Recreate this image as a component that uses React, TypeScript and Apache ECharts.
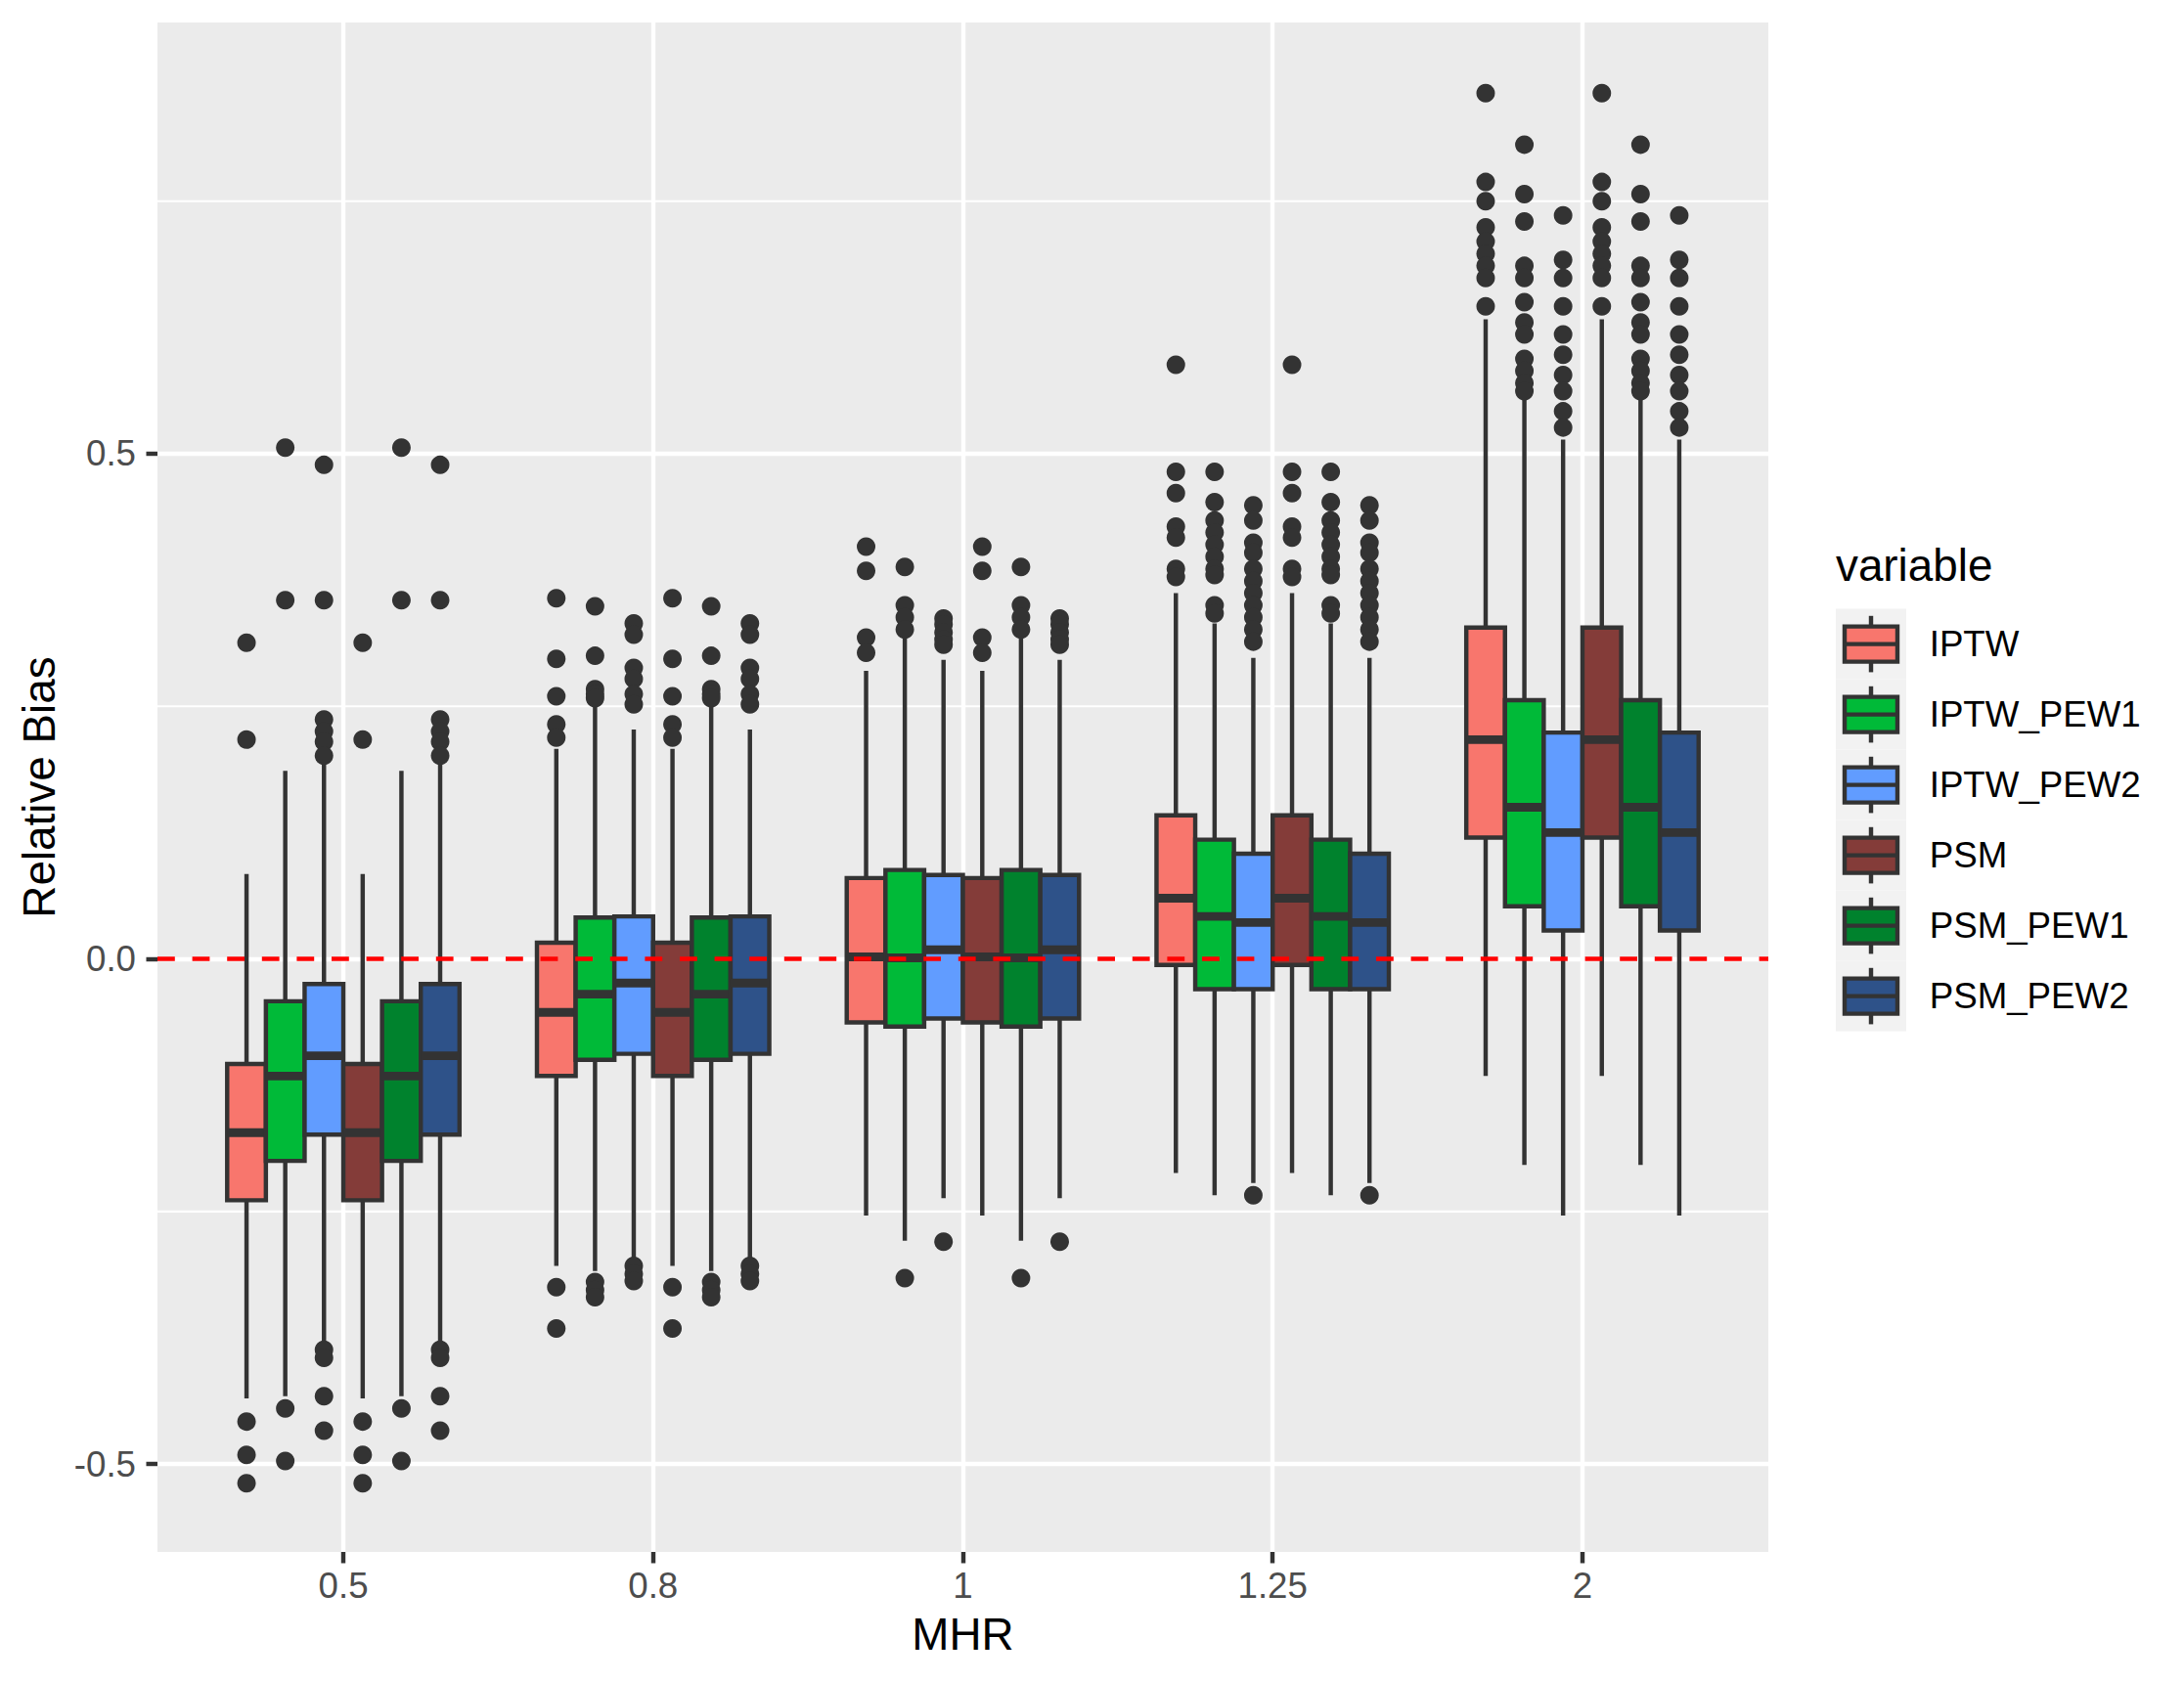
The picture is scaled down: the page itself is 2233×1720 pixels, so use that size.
import React, { useEffect, useRef } from "react";
import * as echarts from "echarts";

// ---- data ----
const mhrLabels = ["0.5", "0.8", "1", "1.25", "2"];
const variables = ["IPTW", "IPTW_PEW1", "IPTW_PEW2", "PSM", "PSM_PEW1", "PSM_PEW2"];
const fillColors = ["#F8766D", "#00BA38", "#619CFF", "#843C39", "#00822D", "#2E5289"];

// [lower whisker, Q1, median, Q3, upper whisker] per MHR group
const iptwStats = [
  [-0.435, -0.239, -0.172, -0.104, 0.084],
  [-0.304, -0.116, -0.053, 0.016, 0.208],
  [-0.254, -0.063, 0.002, 0.080, 0.285],
  [-0.212, -0.006, 0.060, 0.142, 0.362],
  [-0.116, 0.120, 0.217, 0.328, 0.633],
];
const iptwPew1Stats = [
  [-0.433, -0.200, -0.116, -0.042, 0.186],
  [-0.309, -0.100, -0.035, 0.041, 0.251],
  [-0.279, -0.067, 0.001, 0.088, 0.317],
  [-0.234, -0.030, 0.042, 0.118, 0.332],
  [-0.204, 0.052, 0.150, 0.256, 0.554],
];
const iptwPew2Stats = [
  [-0.380, -0.174, -0.096, -0.025, 0.194],
  [-0.297, -0.094, -0.024, 0.042, 0.227],
  [-0.237, -0.059, 0.009, 0.083, 0.296],
  [-0.222, -0.030, 0.036, 0.104, 0.298],
  [-0.254, 0.028, 0.125, 0.224, 0.514],
];
const psmStats = [
  [-0.435, -0.239, -0.172, -0.104, 0.084],
  [-0.304, -0.116, -0.053, 0.016, 0.208],
  [-0.254, -0.063, 0.002, 0.080, 0.285],
  [-0.212, -0.006, 0.060, 0.142, 0.362],
  [-0.116, 0.120, 0.217, 0.328, 0.633],
];
const psmPew1Stats = [
  [-0.433, -0.200, -0.116, -0.042, 0.186],
  [-0.309, -0.100, -0.035, 0.041, 0.251],
  [-0.279, -0.067, 0.001, 0.088, 0.317],
  [-0.234, -0.030, 0.042, 0.118, 0.332],
  [-0.204, 0.052, 0.150, 0.256, 0.554],
];
const psmPew2Stats = [
  [-0.380, -0.174, -0.096, -0.025, 0.194],
  [-0.297, -0.094, -0.024, 0.042, 0.227],
  [-0.237, -0.059, 0.009, 0.083, 0.296],
  [-0.222, -0.030, 0.036, 0.104, 0.298],
  [-0.254, 0.028, 0.125, 0.224, 0.514],
];

// outliers per MHR group
const iptwOutliers = [
  [0.313, 0.217, -0.458, -0.491, -0.519],
  [0.357, 0.297, 0.260, 0.232, 0.219, -0.325, -0.366],
  [0.408, 0.384, 0.318, 0.303],
  [0.588, 0.482, 0.461, 0.428, 0.417, 0.386, 0.378],
  [0.857, 0.769, 0.750, 0.724, 0.710, 0.698, 0.686, 0.674, 0.646],
];
const iptwPew1Outliers = [
  [0.506, 0.355, -0.445, -0.497],
  [0.349, 0.300, 0.267, 0.262, 0.258, -0.320, -0.328, -0.335],
  [0.388, 0.350, 0.338, 0.326, -0.316],
  [0.482, 0.452, 0.434, 0.422, 0.410, 0.398, 0.386, 0.380, 0.350, 0.342],
  [0.806, 0.757, 0.730, 0.686, 0.674, 0.650, 0.630, 0.618, 0.594, 0.582, 0.570, 0.562],
];
const iptwPew2Outliers = [
  [0.489, 0.355, 0.237, 0.225, 0.215, 0.201, -0.387, -0.395, -0.433, -0.467],
  [0.332, 0.321, 0.288, 0.277, 0.262, 0.252, -0.304, -0.312, -0.319],
  [0.337, 0.331, 0.323, 0.316, 0.311, -0.280],
  [0.449, 0.434, 0.412, 0.402, 0.386, 0.374, 0.362, 0.350, 0.338, 0.326, 0.314, -0.234],
  [0.736, 0.692, 0.674, 0.646, 0.618, 0.598, 0.578, 0.562, 0.542, 0.526],
];
const psmOutliers = [
  [0.313, 0.217, -0.458, -0.491, -0.519],
  [0.357, 0.297, 0.260, 0.232, 0.219, -0.325, -0.366],
  [0.408, 0.384, 0.318, 0.303],
  [0.588, 0.482, 0.461, 0.428, 0.417, 0.386, 0.378],
  [0.857, 0.769, 0.750, 0.724, 0.710, 0.698, 0.686, 0.674, 0.646],
];
const psmPew1Outliers = [
  [0.506, 0.355, -0.445, -0.497],
  [0.349, 0.300, 0.267, 0.262, 0.258, -0.320, -0.328, -0.335],
  [0.388, 0.350, 0.338, 0.326, -0.316],
  [0.482, 0.452, 0.434, 0.422, 0.410, 0.398, 0.386, 0.380, 0.350, 0.342],
  [0.806, 0.757, 0.730, 0.686, 0.674, 0.650, 0.630, 0.618, 0.594, 0.582, 0.570, 0.562],
];
const psmPew2Outliers = [
  [0.489, 0.355, 0.237, 0.225, 0.215, 0.201, -0.387, -0.395, -0.433, -0.467],
  [0.332, 0.321, 0.288, 0.277, 0.262, 0.252, -0.304, -0.312, -0.319],
  [0.337, 0.331, 0.323, 0.316, 0.311, -0.280],
  [0.449, 0.434, 0.412, 0.402, 0.386, 0.374, 0.362, 0.350, 0.338, 0.326, 0.314, -0.234],
  [0.736, 0.692, 0.674, 0.646, 0.618, 0.598, 0.578, 0.562, 0.542, 0.526],
];

const yTicks = [-0.5, 0, 0.5];
const yMinorGrid = [-0.25, 0.25, 0.75];
const refLineValue = 0;

const allStats = [iptwStats, iptwPew1Stats, iptwPew2Stats, psmStats, psmPew1Stats, psmPew2Stats];
const allOutliers = [iptwOutliers, iptwPew1Outliers, iptwPew2Outliers, psmOutliers, psmPew1Outliers, psmPew2Outliers];

// ---- layout / style ----
const FONT = "Liberation Sans, Arial, Helvetica, sans-serif";
const W = 2233;
const H = 1720;
const X_MIN = 0.4;
const X_MAX = mhrLabels.length + 0.6;
const Y_MIN = -0.5871;
const Y_MAX = 0.9269;
const DODGE = 0.75;
const BOX_W = DODGE / variables.length;
const LW = 4.44;
const INK = "#333333";

function dodgeOffset(s: number) {
  return -DODGE / 2 + BOX_W * (s + 0.5);
}

export default function App() {
  const ref = useRef<HTMLDivElement>(null);

  useEffect(() => {
    document.body.style.margin = "0";
    if (!ref.current) return;
    const chart = echarts.init(ref.current, undefined, { renderer: "svg" });

    const boxSeries = variables.map((name, s) => ({
      name,
      type: "custom",
      z: 2,
      encode: { x: 0, y: [1, 2, 3, 4, 5] },
      data: allStats[s].map((st, g) => [g + 1 + dodgeOffset(s), ...st]),
      renderItem: (params: any, api: any) => {
        const x = api.value(0);
        const pLow = api.coord([x, api.value(1)]);
        const pQ1 = api.coord([x, api.value(2)]);
        const pMed = api.coord([x, api.value(3)]);
        const pQ3 = api.coord([x, api.value(4)]);
        const pHigh = api.coord([x, api.value(5)]);
        const w = api.size([BOX_W, 0])[0];
        const cx = pMed[0];
        return {
          type: "group",
          children: [
            {
              type: "line",
              shape: { x1: cx, y1: pHigh[1], x2: cx, y2: pQ3[1] },
              style: { stroke: INK, lineWidth: LW },
            },
            {
              type: "line",
              shape: { x1: cx, y1: pQ1[1], x2: cx, y2: pLow[1] },
              style: { stroke: INK, lineWidth: LW },
            },
            {
              type: "rect",
              shape: { x: cx - w / 2, y: pQ3[1], width: w, height: pQ1[1] - pQ3[1] },
              style: { fill: fillColors[s], stroke: INK, lineWidth: LW },
            },
            {
              type: "line",
              shape: { x1: cx - w / 2, y1: pMed[1], x2: cx + w / 2, y2: pMed[1] },
              style: { stroke: INK, lineWidth: LW * 2 },
            },
          ],
        };
      },
    }));

    const outlierSeries = variables.map((name, s) => ({
      name: name + " outliers",
      type: "scatter",
      z: 3,
      symbol: "circle",
      symbolSize: 19,
      itemStyle: { color: INK, opacity: 1 },
      data: allOutliers[s].flatMap((vals, g) => vals.map((v) => [g + 1 + dodgeOffset(s), v])),
    }));

    const minorGridSeries = {
      name: "minor grid",
      type: "custom",
      z: 1,
      silent: true,
      encode: { x: [0, 2], y: 1 },
      data: yMinorGrid.map((v) => [X_MIN, v, X_MAX]),
      renderItem: (params: any, api: any) => {
        const a = api.coord([api.value(0), api.value(1)]);
        const b = api.coord([api.value(2), api.value(1)]);
        return {
          type: "line",
          shape: { x1: a[0], y1: a[1], x2: b[0], y2: b[1] },
          style: { stroke: "#FFFFFF", lineWidth: LW / 2 },
        };
      },
    };

    const refLineSeries = {
      name: "reference",
      type: "custom",
      z: 10,
      silent: true,
      encode: { x: [0, 2], y: 1 },
      data: [[X_MIN, refLineValue, X_MAX]],
      renderItem: (params: any, api: any) => {
        const a = api.coord([api.value(0), api.value(1)]);
        const b = api.coord([api.value(2), api.value(1)]);
        return {
          type: "line",
          shape: { x1: a[0], y1: a[1], x2: b[0], y2: b[1] },
          style: { stroke: "#FF0000", lineWidth: LW, lineDash: [17.8, 17.8] },
        };
      },
    };

    // legend built from the variables / colours arrays
    const legendLeft = 1877;
    const legendTop = 622.6;
    const key = 72;
    const legendChildren: any[] = [
      {
        type: "text",
        x: legendLeft,
        y: 578.5,
        style: { text: "variable", font: `45.8px ${FONT}`, fill: "#000000", verticalAlign: "middle", align: "left" },
      },
    ];
    variables.forEach((name, i) => {
      const top = legendTop + key * i;
      const cx = legendLeft + key / 2;
      legendChildren.push(
        { type: "rect", shape: { x: legendLeft, y: top, width: key, height: key }, style: { fill: "#F2F2F2" } },
        { type: "line", shape: { x1: cx, y1: top + key * 0.1, x2: cx, y2: top + key * 0.9 }, style: { stroke: INK, lineWidth: LW } },
        {
          type: "rect",
          shape: { x: legendLeft + key * 0.125, y: top + key * 0.25, width: key * 0.75, height: key * 0.5 },
          style: { fill: fillColors[i], stroke: INK, lineWidth: LW },
        },
        {
          type: "line",
          shape: { x1: legendLeft + key * 0.125, y1: top + key / 2, x2: legendLeft + key * 0.875, y2: top + key / 2 },
          style: { stroke: INK, lineWidth: LW },
        },
        {
          type: "text",
          x: 1972.7,
          y: top + key / 2,
          style: { text: name, font: `36.7px ${FONT}`, fill: "#000000", verticalAlign: "middle", align: "left" },
        }
      );
    });

    const option: any = {
      animation: false,
      backgroundColor: "#FFFFFF",
      textStyle: { fontFamily: FONT },
      grid: {
        left: 161,
        right: W - 1808,
        top: 23,
        bottom: H - 1587,
        show: true,
        backgroundColor: "#EBEBEB",
        borderWidth: 0,
      },
      xAxis: {
        type: "value",
        min: X_MIN,
        max: X_MAX,
        position: "bottom",
        name: "MHR",
        nameLocation: "middle",
        nameGap: 84,
        nameTextStyle: { fontSize: 45.8, color: "#000000", fontFamily: FONT, verticalAlign: "middle" },
        axisLine: { show: false, onZero: false },
        axisTick: {
          show: true,
          length: 11.5,
          lineStyle: { color: INK, width: LW },
          customValues: mhrLabels.map((_, i) => i + 1),
        },
        axisLabel: {
          customValues: mhrLabels.map((_, i) => i + 1),
          formatter: (v: number) => mhrLabels[Math.round(v) - 1] ?? "",
          fontSize: 36.7,
          color: "#4D4D4D",
          fontFamily: FONT,
          margin: 34.5,
          verticalAlign: "middle",
        },
        splitLine: { show: true, lineStyle: { color: "#FFFFFF", width: LW } },
      },
      yAxis: {
        type: "value",
        min: Y_MIN,
        max: Y_MAX,
        position: "left",
        name: "Relative Bias",
        nameLocation: "middle",
        nameGap: 121,
        nameRotate: 90,
        nameTextStyle: { fontSize: 45.8, color: "#000000", fontFamily: FONT, verticalAlign: "middle" },
        axisLine: { show: false, onZero: false },
        axisTick: {
          show: true,
          length: 11.5,
          lineStyle: { color: INK, width: LW },
          customValues: yTicks,
        },
        axisLabel: {
          customValues: yTicks,
          formatter: (v: number) => v.toFixed(1),
          fontSize: 36.7,
          color: "#4D4D4D",
          fontFamily: FONT,
          margin: 22,
          align: "right",
        },
        splitLine: { show: true, lineStyle: { color: "#FFFFFF", width: LW } },
      },
      series: [minorGridSeries, ...boxSeries, ...outlierSeries, refLineSeries],
      graphic: [{ type: "group", children: legendChildren }],
    };

    chart.setOption(option);
    return () => chart.dispose();
  }, []);

  return <div ref={ref} style={{ width: W + "px", height: H + "px" }} />;
}
